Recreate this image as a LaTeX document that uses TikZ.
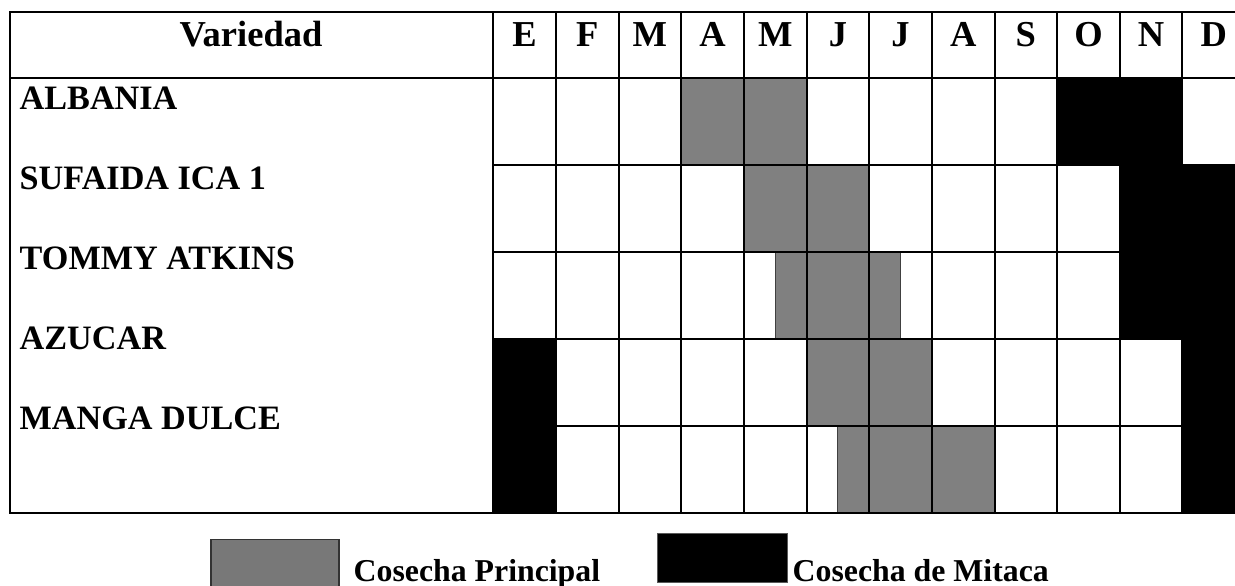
\documentclass[tikz,border=0pt]{standalone}
\usepackage{fontspec}
\setmainfont{Liberation Serif}
\definecolor{cgray}{HTML}{808080}
\definecolor{lgray}{HTML}{787878}
\begin{document}
\begin{tikzpicture}[x=1pt,y=-1pt,
  gridline/.style={line width=2pt, line cap=rect},
  mainc/.style={fill=cgray, draw=black!75, line width=0.8pt},
  mitc/.style={fill=black},
  hdr/.style={font=\bfseries\fontsize{36.5}{40}\selectfont, anchor=base, inner sep=0pt},
  lbl/.style={font=\bfseries\fontsize{34.2}{38}\selectfont, anchor=base west, inner sep=0pt},
  leg/.style={font=\bfseries\fontsize{31.8}{36}\selectfont, anchor=base west, inner sep=0pt}]
\useasboundingbox (0,0) rectangle (1235,586);
\clip (0,0) rectangle (1235,586);
\newcommand{\gxa}{493.3}
\newcommand{\gcw}{62.65}
\newcommand{\gya}{77.7}
\newcommand{\grh}{87.12}
\newcommand{\gcell}[4]{\path[#4] ({\gxa+\gcw*#1},{\gya+\grh*#3}) rectangle ({\gxa+\gcw*#2},{\gya+\grh*(#3+1)});}
% cosecha principal (gray)
\gcell{3}{5}{0}{mainc}
\gcell{4}{6}{1}{mainc}
\gcell{4.5}{6.5}{2}{mainc}
\gcell{5}{7}{3}{mainc}
\gcell{5.5}{8}{4}{mainc}
% grid
\draw[gridline] (9.5,12.3) -- (1246,12.3);
\draw[gridline] (9.5,\gya) -- (1246,\gya);
\foreach \k in {1,...,4} \draw[gridline] (\gxa,{\gya+\grh*\k}) -- (1246,{\gya+\grh*\k});
\draw[gridline] (9.5,513.3) -- (1246,513.3);
\draw[gridline] (9.5,12.3) -- (9.5,513.3);
\foreach \i in {0,...,11} \draw[gridline] ({\gxa+\gcw*\i},12.3) -- ({\gxa+\gcw*\i},513.3);
% cosecha de mitaca (black)
\gcell{9}{11}{0}{mitc}
\gcell{10}{12.2}{1}{mitc}
\gcell{10}{12.2}{2}{mitc}
\gcell{11}{12.2}{3}{mitc}
\gcell{11}{12.2}{4}{mitc}
\gcell{0}{1}{3}{mitc}
\gcell{0}{1}{4}{mitc}
% header
\node[hdr] (hvar) at (251,46.7) {Variedad};
\foreach \m [count=\i from 0] in {E,F,M,A,M,J,J,A,S,O,N,D}
  \node[hdr] (h\i) at ({\gxa+\gcw*(\i+0.5)},46.7) {\m};
% labels
\node[lbl] (albania) at (19.5,109.5) {ALBANIA};
\node[lbl] (sufaida) at (19.5,189.5) {SUFAIDA ICA 1};
\node[lbl] (tommy) at (19.5,269.5) {TOMMY ATKINS};
\node[lbl] (azucar) at (19.5,349.5) {AZUCAR};
\node[lbl] (manga) at (19.5,429.5) {MANGA DULCE};
% legend
\path[fill=lgray, draw=black!80, line width=1.5pt] (211,539.5) rectangle (339,600);
\path[fill=black, draw=black!65, line width=1pt] (657.5,533.5) rectangle (787.5,582.5);
\node[leg] (legp) at (353.5,581) {Cosecha Principal};
\node[leg] (legm) at (792.5,581) {Cosecha de Mitaca};
\end{tikzpicture}
\end{document}
